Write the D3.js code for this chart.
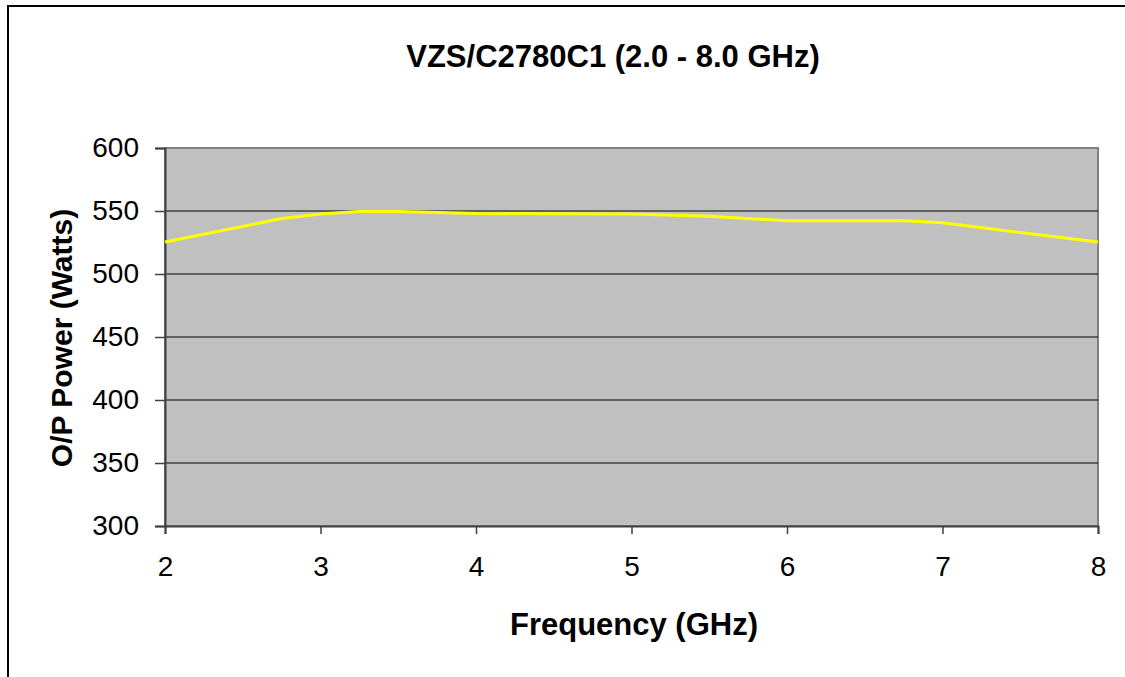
<!DOCTYPE html>
<html>
<head>
<meta charset="utf-8">
<script src="https://cdn.jsdelivr.net/npm/d3@7"></script>
<style>
  body { margin: 0; background: #fff; overflow: hidden; }
  svg { display: block; font-family: "Liberation Sans", Arial, sans-serif; }
</style>
</head>
<body>
<svg id="chart" width="1125" height="677"></svg>
<script>
// Frequency (GHz) and output power (Watts)
const freq = [2, 2.75, 3, 3.25, 3.5, 4, 4.5, 5, 5.5, 6, 6.75, 7, 8];
const power = [525.4, 544, 547.6, 549.6, 549.6, 548, 547.8, 547.7, 545.8, 542.2, 542.2, 540.6, 525.4];
const xTicks = [2, 3, 4, 5, 6, 7, 8];
const yTicks = [300, 350, 400, 450, 500, 550, 600];

const svg = d3.select('#chart');

// Outer chart frame: only the left and top edges fall inside the picture
svg.append('path')
    .attr('d', 'M8,677 L8,6 L1125,6')
    .style('fill', 'none')
    .style('stroke', '#000')
    .style('stroke-width', 2);

const plot = {left: 165, top: 148, right: 1098, bottom: 526};

const x = d3.scaleLinear().domain([2, 8]).range([plot.left, plot.right]);
const y = d3.scaleLinear().domain([300, 600]).range([plot.bottom, plot.top]);

// Plot area background
svg.append('rect')
    .attr('x', plot.left).attr('y', plot.top)
    .attr('width', plot.right - plot.left)
    .attr('height', plot.bottom - plot.top)
    .style('fill', '#c0c0c0')
    .style('stroke', '#808080')
    .style('stroke-width', 2);

// Horizontal gridlines
svg.selectAll('line.grid')
    .data(yTicks.filter(d => d > 300 && d < 600))
    .enter()
    .append('line')
    .attr('class', 'grid')
    .attr('x1', plot.left).attr('x2', plot.right)
    .attr('y1', d => y(d)).attr('y2', d => y(d))
    .style('stroke', '#000')
    .style('stroke-width', 1);

// Axes
const yAxis = svg.append('g')
    .attr('transform', `translate(${plot.left},0)`)
    .call(d3.axisLeft(y).tickValues(yTicks).tickSize(10).tickPadding(16));

const xAxis = svg.append('g')
    .attr('transform', `translate(0,${plot.bottom})`)
    .call(d3.axisBottom(x).tickValues(xTicks).tickSize(8).tickPadding(22).tickFormat(d3.format('d')));

[yAxis, xAxis].forEach(ax => {
    ax.select('.domain').style('stroke', '#404040').style('stroke-width', 2);
    ax.selectAll('.tick line').style('stroke', '#404040').style('stroke-width', 1.5);
    ax.selectAll('.tick text')
        .style('font-family', '"Liberation Sans", Arial, sans-serif')
        .style('font-size', '28px')
        .style('fill', '#000');
});

// Data line (straight segments between readings)
const line = d3.line()
    .x((d, i) => x(freq[i]))
    .y(d => y(d));

svg.append('path')
    .datum(power)
    .attr('d', line)
    .style('fill', 'none')
    .style('stroke', '#ffff00')
    .style('stroke-width', 3)
    .style('stroke-linejoin', 'round');

// Titles
svg.append('text')
    .attr('x', 613).attr('y', 67)
    .attr('text-anchor', 'middle')
    .style('font-size', '31px')
    .style('font-weight', 'bold')
    .text('VZS/C2780C1 (2.0 - 8.0 GHz)');

svg.append('text')
    .attr('x', 634).attr('y', 635)
    .attr('text-anchor', 'middle')
    .style('font-size', '31px')
    .style('font-weight', 'bold')
    .text('Frequency (GHz)');

svg.append('text')
    .attr('transform', 'translate(72,338) rotate(-90)')
    .attr('text-anchor', 'middle')
    .style('font-size', '30px')
    .style('font-weight', 'bold')
    .text('O/P Power (Watts)');
</script>
</body>
</html>
